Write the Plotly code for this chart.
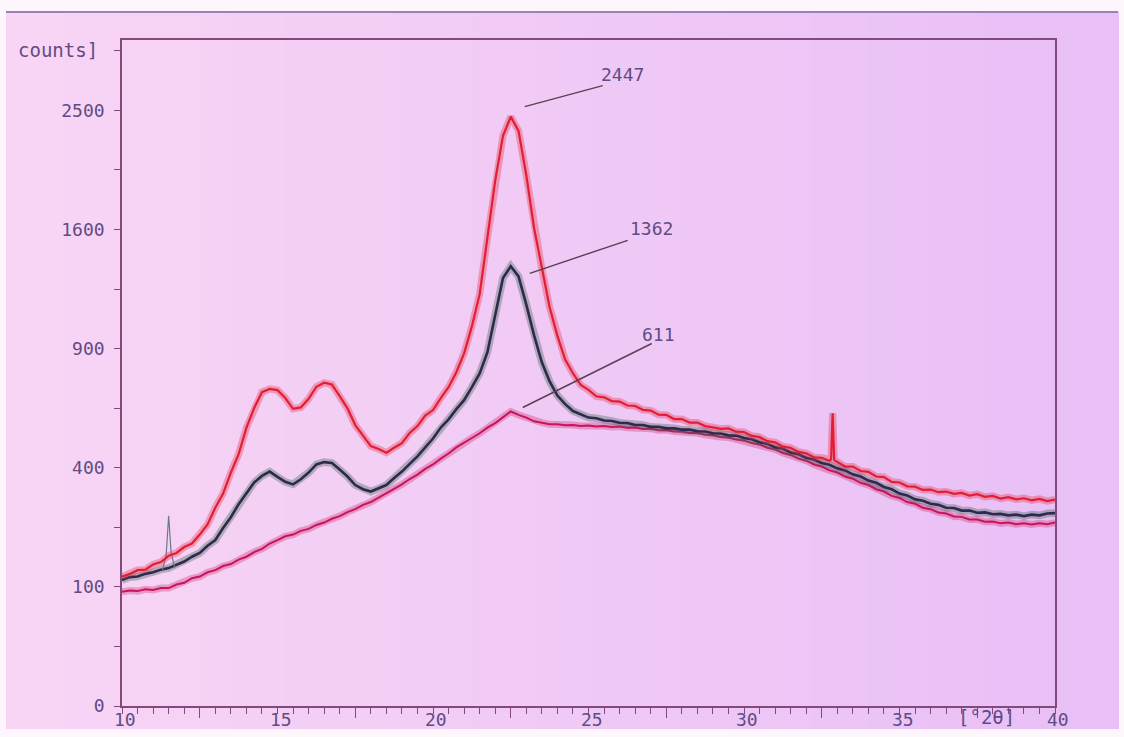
import numpy as np
import plotly.graph_objects as go

# Diffraction angle grid (degrees 2-theta), 0.25 deg step
two_theta = np.round(np.arange(10, 40.001, 0.25), 2)

# Intensity (counts) for the three scans on the grid above
counts_red = [
    118, 123, 130, 131, 141, 146, 159, 165, 178, 186, 207, 232,
    277, 318, 384, 447, 545, 626, 694, 708, 703, 668, 622, 628,
    665, 718, 736, 728, 676, 624, 556, 514, 476, 465, 452, 470,
    487, 525, 552, 594, 617, 668, 716, 785, 876, 1015, 1195, 1545,
    1945, 2290, 2447, 2330, 1985, 1610, 1345, 1120, 965, 845, 780, 726,
    704, 676, 671, 655, 653, 636, 634, 618, 615, 598, 597, 580,
    580, 566, 566, 552, 547, 541, 543, 530, 529, 514, 510, 494,
    490, 474, 470, 455, 450, 436, 434, 424, 420, 404, 404, 389,
    386, 371, 369, 354, 352, 340, 339, 329, 330, 322, 324, 317,
    320, 312, 316, 308, 311, 303, 307, 301, 304, 298, 302, 296,
    300,
]
counts_dark = [
    112, 117, 118, 123, 126, 131, 134, 141, 147, 157, 165, 181,
    194, 223, 251, 287, 318, 352, 373, 387, 370, 354, 346, 362,
    384, 411, 419, 416, 394, 371, 344, 331, 324, 333, 344, 366,
    387, 413, 439, 471, 504, 546, 579, 621, 659, 716, 779, 882,
    1080, 1290, 1362, 1300, 1135, 968, 832, 742, 679, 642, 613, 600,
    586, 583, 574, 572, 565, 564, 556, 556, 549, 549, 543, 543,
    538, 538, 532, 531, 524, 523, 516, 515, 506, 501, 490, 484,
    472, 466, 453, 447, 434, 428, 416, 410, 398, 391, 378, 371,
    358, 351, 338, 331, 318, 312, 301, 297, 288, 285, 277, 276,
    269, 269, 263, 264, 259, 260, 256, 258, 254, 258, 256, 261,
    262,
]
counts_magenta = [
    92, 94, 93, 96, 95, 98, 98, 104, 107, 115, 118, 126,
    130, 138, 142, 151, 157, 167, 174, 186, 194, 203, 207, 216,
    221, 231, 237, 247, 254, 265, 273, 285, 293, 306, 317, 333,
    346, 363, 377, 396, 411, 431, 449, 471, 487, 506, 524, 546,
    564, 587, 611, 597, 586, 571, 566, 559, 559, 555, 556, 552,
    554, 550, 552, 548, 550, 545, 546, 541, 542, 536, 537, 531,
    531, 525, 525, 518, 517, 510, 508, 500, 497, 487, 482, 470,
    464, 451, 444, 431, 424, 411, 404, 391, 384, 371, 364, 351,
    344, 331, 324, 311, 305, 293, 288, 277, 273, 264, 261, 253,
    252, 245, 245, 239, 240, 235, 237, 233, 235, 232, 235, 233,
    237,
]

# Narrow reflections recorded between grid points
spike_red_x = [32.80, 32.85, 32.90]
spike_red_y = [428, 604, 426]
spike_thin_x = [11.30, 11.42, 11.50, 11.58, 11.70]
spike_thin_y = [130, 160, 255, 165, 134]

# Peak annotations
peak_labels = ["2447", "1362", "611"]
peak_angle = [22.5, 22.5, 22.5]
peak_counts = [2447, 1362, 611]

# Square-root intensity axis
y_tick_counts = [0, 100, 400, 900, 1600, 2500]
x_tick_vals = [10, 15, 20, 25, 30, 35, 40]
x_mid_ticks = [12.5, 17.5, 22.5, 27.5, 32.5, 37.5]

W, H = 1124, 737
ML, MR, MT, MB = 122, 69, 40, 31
PW, PH = W - ML - MR, H - MT - MB

TEXT = "#5f4c84"
AXIS = "#84497c"
FONT = "DejaVu Sans Mono"
FS = 18


def merged(base, sx, sy):
    x = np.concatenate([two_theta, np.array(sx, float)])
    y = np.concatenate([np.array(base, float), np.array(sy, float)])
    o = np.argsort(x, kind="stable")
    return x[o], y[o]


def px_to_paper(px, py):
    return (px - ML) / PW, (H - MB - py) / PH


def scan(fig, x, counts, core, halo, width):
    """Draw one scan as a soft counting-noise band with a solid core."""
    y = np.sqrt(counts)
    fig.add_trace(go.Scatter(x=x, y=y, mode="lines", opacity=0.35,
                             line=dict(color=halo, width=width + 5),
                             showlegend=False, hoverinfo="skip"))
    fig.add_trace(go.Scatter(x=x, y=y, mode="lines",
                             line=dict(color=core, width=width),
                             showlegend=False, hoverinfo="skip"))


fig = go.Figure()

scan(fig, two_theta, counts_magenta, "#c8145e", "#d0306e", 2.0)
xd, yd = merged(counts_dark, [], [])
scan(fig, xd, yd, "#2c2a52", "#3f6448", 2.6)
# thin trace carrying the sharp reflection near 11.5 deg
fig.add_trace(go.Scatter(x=spike_thin_x, y=np.sqrt(spike_thin_y), mode="lines",
                         line=dict(color="#6a7890", width=1.2),
                         showlegend=False, hoverinfo="skip"))
xr, yr = merged(counts_red, spike_red_x, spike_red_y)
scan(fig, xr, yr, "#e01e34", "#e8304a", 2.2)
# carrier for the half-decade tick axis
fig.add_trace(go.Scatter(x=[10, 40], y=[0, 0], xaxis="x2", mode="none",
                         showlegend=False, hoverinfo="skip"))

# photographic paper background: horizontal tint from pink to lavender
left_rgb = np.array([248, 213, 245])
right_rgb = np.array([232, 191, 246])
x_edges = np.linspace(6, 1118, 41)
shapes = []
for i in range(40):
    t = i / 39
    c = (left_rgb * (1 - t) + right_rgb * t).round().astype(int)
    x0, y0 = px_to_paper(x_edges[i], 729)
    x1, y1 = px_to_paper(x_edges[i + 1] + 1, 12)
    shapes.append(dict(type="rect", xref="paper", yref="paper", layer="below",
                       x0=x0, x1=x1, y0=y0, y1=y1,
                       fillcolor=f"rgb({c[0]},{c[1]},{c[2]})", line=dict(width=0)))
bx0, by0 = px_to_paper(6, 12)
bx1, _ = px_to_paper(1118, 12)
shapes.append(dict(type="line", xref="paper", yref="paper", layer="below",
                   x0=bx0, x1=bx1, y0=by0, y1=by0, line=dict(color="#a080b4", width=2)))

# leader lines from each peak to its label (offsets in pixels)
leader_offsets = [((14, 10), (92, 31)), ((19, -7), (117, 26)), ((12, 4), (141, 68))]
label_offsets = [(112, 42), (141, 38), (148, 77)]
annotations = []
for lab, ang, cnt, (p0, p1), (tx, ty) in zip(peak_labels, peak_angle, peak_counts,
                                              leader_offsets, label_offsets):
    shapes.append(dict(type="line", xref="x", yref="y",
                       xsizemode="pixel", ysizemode="pixel",
                       xanchor=ang, yanchor=float(np.sqrt(cnt)),
                       x0=p0[0], y0=p0[1], x1=p1[0], y1=p1[1],
                       line=dict(color="#5a4050", width=1.4)))
    annotations.append(dict(x=ang, y=float(np.sqrt(cnt)), xref="x", yref="y",
                            text=lab, showarrow=False, xshift=tx, yshift=ty,
                            xanchor="center", yanchor="middle",
                            font=dict(family=FONT, size=FS, color=TEXT)))

# x tick labels set just under the tick marks
_, label_y = px_to_paper(0, 719)
for v in x_tick_vals:
    annotations.append(dict(x=v, y=label_y, xref="x", yref="paper", text=str(v),
                            showarrow=False, xanchor="center", yanchor="middle",
                            xshift=3, font=dict(family=FONT, size=FS, color=TEXT)))

cx, cy = px_to_paper(58, 50)
annotations.append(dict(x=cx, y=cy, xref="paper", yref="paper", text="counts]",
                        showarrow=False, xanchor="center", yanchor="middle",
                        font=dict(family=FONT, size=FS + 1, color=TEXT)))
ux, uy = px_to_paper(986, 717)
annotations.append(dict(x=ux, y=uy, xref="paper", yref="paper", text="[°2θ]",
                        showarrow=False, xanchor="center", yanchor="middle",
                        font=dict(family=FONT, size=FS + 1, color=TEXT)))

fig.update_layout(
    width=W, height=H,
    margin=dict(l=ML, r=MR, t=MT, b=MB),
    paper_bgcolor="#fdf7fd",
    plot_bgcolor="rgba(0,0,0,0)",
    shapes=shapes,
    annotations=annotations,
    xaxis=dict(
        range=[10, 40], tickvals=x_tick_vals, showticklabels=False,
        ticks="outside", ticklen=6, tickwidth=1.3, tickcolor=AXIS,
        minor=dict(dtick=0.5, ticks="outside", ticklen=6, tickwidth=1.3, tickcolor=AXIS),
        showline=True, linecolor=AXIS, linewidth=1.6, mirror=True,
        showgrid=False, zeroline=False, automargin=False,
    ),
    xaxis2=dict(
        overlaying="x", side="bottom", range=[10, 40], tickvals=x_mid_ticks,
        ticks="outside", ticklen=11, tickwidth=1.3, tickcolor=AXIS, automargin=False,
        showticklabels=False, showgrid=False, zeroline=False, showline=False,
    ),
    yaxis=dict(
        range=[0, 55.9], tickvals=[float(np.sqrt(v)) for v in y_tick_counts],
        ticktext=[str(v) for v in y_tick_counts],
        ticks="outside", ticklen=6, tickwidth=1.3, tickcolor=AXIS,
        minor=dict(dtick=5, ticks="outside", ticklen=6, tickwidth=1.3, tickcolor=AXIS),
        showline=True, linecolor=AXIS, linewidth=1.6, mirror=True,
        showgrid=False, zeroline=False, ticklabelstandoff=6, automargin=False,
        tickfont=dict(family=FONT, size=FS, color=TEXT),
    ),
)

fig.write_html("out.html")
